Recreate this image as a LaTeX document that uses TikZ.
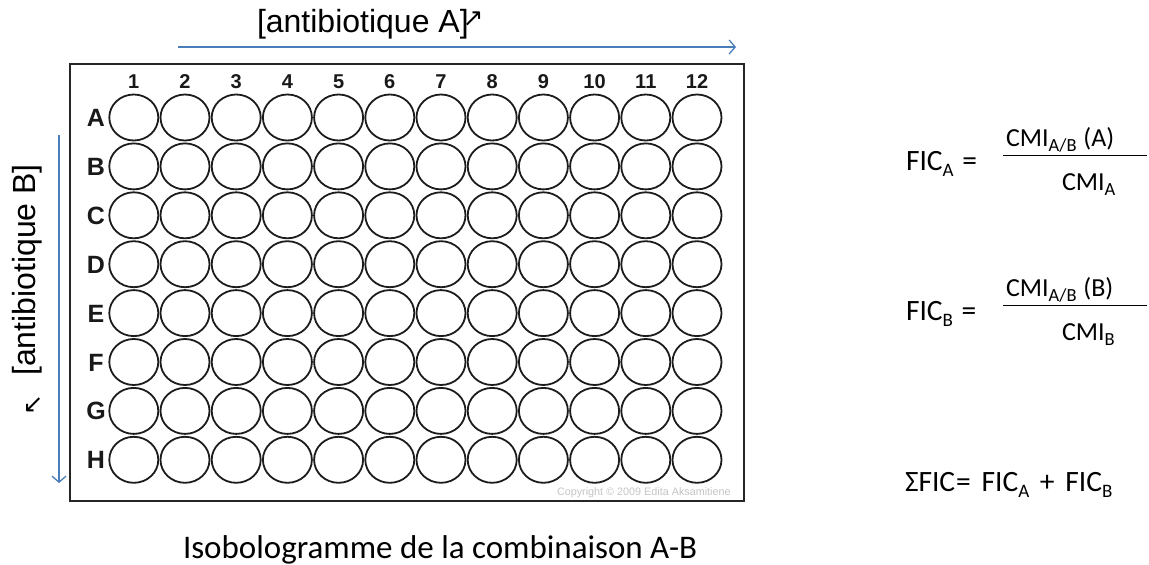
\documentclass[tikz,border=0pt]{standalone}
\usepackage{fontspec}
\setmainfont{Carlito}
\newfontfamily\arial{Liberation Sans}
\newfontfamily\djv{DejaVu Sans}
\usetikzlibrary{arrows.meta}
\definecolor{axblue}{HTML}{4A7EBB}
\definecolor{wellc}{HTML}{1C1C1C}
\definecolor{copyc}{HTML}{C4C4C4}
\newcommand\fsz[1]{\fontsize{#1}{#1}\selectfont}
\newcommand\lowsub[3]{\raisebox{-#1pt}{\fsz{#2}#3}}
\begin{document}
\begin{tikzpicture}[x=1pt,y=-1pt,
  txt/.style={inner sep=0pt, outer sep=0pt},
  axisarrow/.style={draw=axblue, line width=1.3pt,
    -{Straight Barb[length=6pt,width=14pt,line width=1.3pt]}},
  well/.style={draw=wellc, line width=1.8pt},
  plate/.style={draw=black!85, line width=1.8pt},
  collab/.style={txt, anchor=base, font=\arial\bfseries\fsz{20}, text=black!90},
  rowlab/.style={txt, anchor=base, font=\arial\bfseries\fsz{25}, text=black!90},
  axlab/.style={txt, font=\arial\fsz{32}},
  glyph/.style={txt, font=\djv\fsz{25}},
  frm/.style={txt, anchor=base west, font=\fsz{29.5}},
  frac/.style={txt, anchor=base west, font=\fsz{26}},
  fbar/.style={draw=black, line width=1.4pt}]
\useasboundingbox (0,0) rectangle (1149,565);

% plate frame
\draw[plate] (70,64) rectangle (744,501);

% wells
\foreach \r [count=\i from 0] in {A,B,C,D,E,F,G,H}{
  \node[rowlab] (row\r) at (96,{117.5+48.9*\i+9}) {\r};
  \foreach \c [count=\j from 0] in {1,...,12}{
    \draw[well] ({133.8+51.2*\j},{117.5+48.9*\i}) ellipse [x radius=24.5, y radius=23];
  }
}
\foreach \c [count=\j from 0] in {1,...,12}{
  \node[collab] (col\c) at ({133.8+51.2*\j},88.5) {\c};
}

% copyright
\node[txt, anchor=base west, font=\arial\fsz{10.8}, text=copyc] (copy) at (557,495.5)
  {Copyright © 2009 Edita Aksamitiene};

% top axis
\coordinate (topS) at (178,47);
\coordinate (topE) at (736,47);
\draw[axisarrow] (topS) -- (topE);
\node[axlab, anchor=base west] (labA) at (257,32) {[antibiotique A]};
\node[glyph] (upA) at (473,19) {↗};

% left axis
\coordinate (leftS) at (59,135);
\coordinate (leftE) at (59,483);
\draw[axisarrow] (leftS) -- (leftE);
\node[axlab, anchor=base, rotate=90] (labB) at (35,270) {[antibiotique B]};
\node[glyph] (dnB) at (33,405) {↙};

% caption
\node[txt, anchor=base west, font=\fsz{33}] (cap) at (183,558)
  {Isobologramme de la combinaison A-B};

% FIC_A
\node[frm] (ficA) at (906,170.7) {FIC\lowsub{6}{19}{A} \hspace{2pt}=};
\node[frac] (numA) at (1006,146.7) {CMI\lowsub{5}{18.5}{A/B} \hspace{1pt}(A)};
\node[frac] (denA) at (1062,190) {CMI\lowsub{5}{18.5}{A}};
\coordinate (barAs) at (1003,155.7);
\coordinate (barAe) at (1147,155.7);
\draw[fbar] (barAs) -- (barAe);

% FIC_B
\node[frm] (ficB) at (906,320.7) {FIC\lowsub{6}{19}{B} \hspace{2pt}=};
\node[frac] (numB) at (1006,296.7) {CMI\lowsub{5}{18.5}{A/B} \hspace{1pt}(B)};
\node[frac] (denB) at (1062,340) {CMI\lowsub{5}{18.5}{B}};
\coordinate (barBs) at (1003,305.7);
\coordinate (barBe) at (1147,305.7);
\draw[fbar] (barBs) -- (barBe);

% sum
\node[frm] (sum) at (905,491.7)
  {ΣFIC\hspace{1pt}= \hspace{4pt}FIC\lowsub{6}{19}{A} \hspace{4pt}+\hspace{4pt} FIC\lowsub{6}{19}{B}};
\end{tikzpicture}
\end{document}
